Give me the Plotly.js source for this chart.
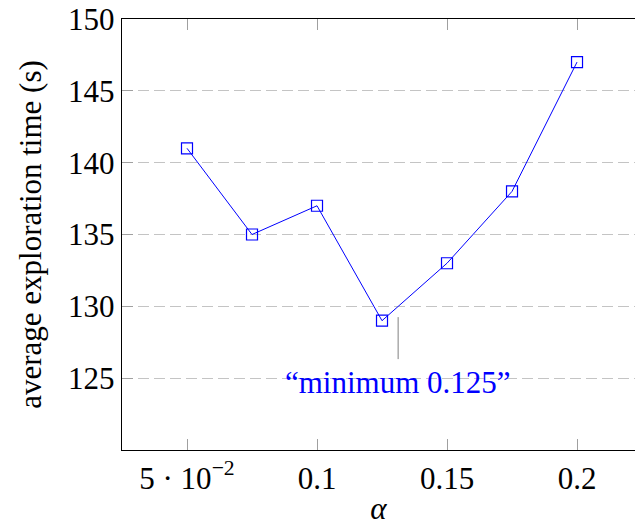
<!DOCTYPE html>
<html>
<head>
<meta charset="utf-8">
<script src="https://cdn.plot.ly/plotly-3.0.1.min.js"></script>
<style>html,body{margin:0;padding:0;background:#fff;}#chart{width:635px;height:526px;}</style>
</head>
<body>
<div id="chart"></div>
<script>
const alphaValues = [0.05, 0.075, 0.1, 0.125, 0.15, 0.175, 0.2];
const explorationTime = [141, 135, 137, 129, 133, 138, 147];
const xTickVals = [0.05, 0.1, 0.15, 0.2];
const xTickText = ["5 · 10<sup>−2</sup>", "0.1", "0.15", "0.2"];
const yTickVals = [125, 130, 135, 140, 145, 150];
const annotationText = "“minimum 0.125”";
const annotationPoint = [0.1312, 129.25];

const FONT = "Liberation Serif";
const FS = 31;

const trace = {
  x: alphaValues,
  y: explorationTime,
  type: "scatter",
  mode: "lines+markers",
  line: {color: "#0000ff", width: 1},
  marker: {symbol: "square-open", size: 11, color: "#0000ff", line: {width: 1.2, color: "#0000ff"}},
  showlegend: false,
  cliponaxis: false
};

const layout = {
  width: 635,
  height: 526,
  margin: {l: 122, r: 0, t: 19, b: 76},
  paper_bgcolor: "#ffffff",
  plot_bgcolor: "#ffffff",
  font: {family: FONT, size: FS, color: "#000"},
  xaxis: {
    range: [0.025, 0.2223],
    tickvals: xTickVals,
    ticktext: xTickText,
    ticks: "inside",
    ticklen: 11,
    tickcolor: "#a0a0a0",
    tickwidth: 1,
    showline: true,
    linecolor: "#000",
    linewidth: 1.3,
    mirror: "ticks",
    showgrid: false,
    zeroline: false,
    tickfont: {family: FONT, size: FS},
    title: {text: "<i>α</i>", font: {family: FONT, size: FS}, standoff: 3}
  },
  yaxis: {
    range: [120, 150],
    tickvals: yTickVals,
    ticks: "inside",
    ticklen: 11,
    tickcolor: "#a0a0a0",
    tickwidth: 1,
    showline: true,
    linecolor: "#000",
    linewidth: 1.3,
    mirror: false,
    showgrid: true,
    gridcolor: "#c4c4c4",
    gridwidth: 1,
    griddash: "11px,5px",
    zeroline: false,
    tickfont: {family: FONT, size: FS},
    title: {text: "average exploration time (s)", font: {family: FONT, size: FS}, standoff: 17}
  },
  annotations: [{
    x: annotationPoint[0],
    y: annotationPoint[1],
    xref: "x",
    yref: "y",
    text: annotationText,
    font: {family: FONT, size: FS, color: "#0000ff"},
    showarrow: true,
    arrowhead: 0,
    arrowwidth: 1,
    arrowcolor: "#808080",
    ax: 0,
    ay: 65,
    startstandoff: 4,
    bgcolor: "rgba(0,0,0,0)"
  }]
};

Plotly.newPlot("chart", [trace], layout, {staticPlot: true, displayModeBar: false});
</script>
</body>
</html>
